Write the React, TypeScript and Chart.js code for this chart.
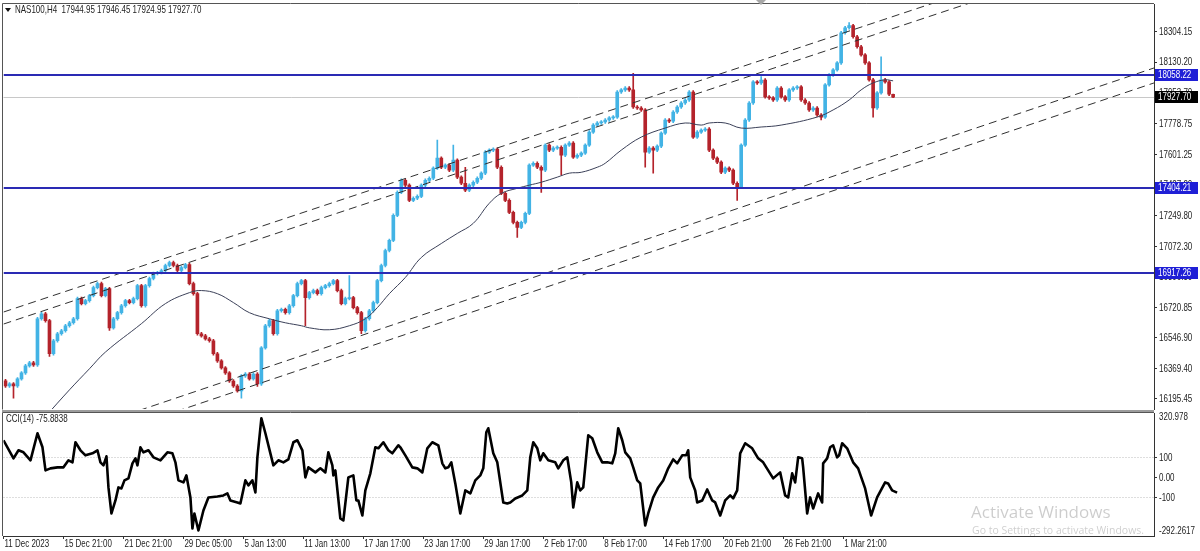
import React, { useEffect, useRef } from "react";
import { Chart, registerables } from "chart.js";

Chart.register(...registerables);

const FONT = "'Liberation Sans', Arial, sans-serif";
const SIZE = 10.5;
const SQUEEZE = 0.76;
const TEXT = "#222";
const BULL = "#42b3e5";
const BEAR = "#b4232b";
const LEVEL = "#2a2ab4";
const LEVEL_TAG = "#1f1fd6";
const MA_COLOR = "#3b4058";

// ---------- data ----------
const symbol = "NAS100,H4";
const lastOHLC = [17944.95, 17946.45, 17924.95, 17927.7];
const firstOpen = 16300;

const closes = [
  16270, 16282, 16270, 16311, 16345, 16386, 16403, 16391, 16656, 16685,
  16645, 16455, 16530, 16570, 16587, 16616, 16633, 16656, 16772, 16743,
  16760, 16789, 16835, 16858, 16789, 16829, 16604, 16656, 16691, 16731,
  16760, 16749, 16772, 16846, 16731, 16846, 16887, 16916, 16921, 16933,
  16962, 16979, 16962, 16933, 16950, 16967, 16858, 16800, 16570, 16558,
  16541, 16530, 16455, 16414, 16374, 16345, 16299, 16270, 16242, 16328,
  16339, 16311, 16339, 16282, 16489, 16616, 16645, 16570, 16702, 16710,
  16691, 16731, 16789, 16858, 16875, 16777, 16806, 16818, 16800, 16835,
  16846, 16858, 16875, 16818, 16743, 16772, 16777, 16720, 16691, 16587,
  16656, 16702, 16749, 16875, 16962, 17048, 17106, 17250, 17382, 17451,
  17423, 17336, 17348, 17359, 17423, 17451, 17463, 17521, 17578, 17526,
  17538, 17509, 17567, 17469, 17434, 17394, 17423, 17440, 17463, 17492,
  17613, 17624, 17630, 17526, 17376, 17336, 17267, 17209, 17181, 17209,
  17261, 17538, 17549, 17526, 17509, 17653, 17624, 17636, 17641, 17595,
  17653, 17665, 17584, 17595, 17607, 17653, 17728, 17768, 17780, 17786,
  17797, 17809, 17814, 17958, 17970, 17981, 17970, 17872, 17866, 17855,
  17613, 17636, 17624, 17647, 17722, 17797, 17790, 17843, 17872, 17895,
  17912, 17958, 17699, 17728, 17739, 17745, 17624, 17578, 17555, 17497,
  17521, 17509, 17434, 17411, 17653, 17797, 17895, 18016, 18010, 18027,
  17930, 17924, 17912, 17981, 17930, 17912, 17970, 17981, 17987, 17912,
  17895, 17855, 17866, 17826, 17814, 17999, 18056, 18085, 18125, 18298,
  18327, 18339, 18275, 18218, 18171, 18125, 18028, 17866, 17953, 18028,
  18016, 17944.95, 17927.7,
];

const upWick = [
  8, 8, 8, 8, 8, 8, 8, 8, 8, 8, 8, 8, 8, 8, 8, 8, 8, 8, 8, 8,
  8, 8, 8, 8, 8, 8, 8, 8, 8, 8, 8, 8, 8, 8, 8, 8, 8, 8, 8, 8,
  8, 8, 8, 8, 8, 8, 8, 8, 8, 8, 8, 8, 8, 8, 8, 8, 8, 8, 8, 8,
  8, 8, 8, 8, 8, 8, 8, 8, 8, 8, 8, 8, 8, 8, 8, 8, 8, 8, 8, 8,
  8, 8, 8, 8, 8, 8, 127, 8, 8, 8, 8, 8, 8, 8, 8, 8, 8, 8, 8, 8,
  8, 8, 8, 8, 8, 8, 8, 8, 104, 8, 8, 8, 86, 8, 8, 92, 8, 8, 8, 8,
  8, 8, 8, 8, 8, 8, 8, 8, 8, 8, 8, 8, 8, 8, 8, 8, 8, 8, 8, 8,
  8, 8, 8, 8, 8, 8, 8, 8, 8, 8, 8, 8, 8, 8, 8, 8, 8, 95, 8, 8,
  8, 8, 8, 8, 8, 8, 8, 8, 8, 8, 8, 8, 8, 8, 8, 8, 8, 8, 8, 8,
  8, 8, 8, 8, 8, 8, 8, 8, 8, 20, 8, 8, 8, 8, 8, 8, 8, 8, 8, 8,
  8, 8, 8, 8, 8, 8, 8, 8, 8, 8, 8, 17, 8, 8, 8, 8, 8, 8, 8, 132,
  8, 8, 1.5,
];

const dnWick = [
  8, 8, 70, 8, 8, 8, 8, 8, 8, 8, 8, 15, 8, 8, 8, 8, 8, 8, 8, 8,
  8, 8, 8, 8, 8, 8, 15, 8, 8, 8, 8, 8, 8, 8, 8, 8, 8, 8, 8, 8,
  8, 8, 8, 8, 8, 8, 8, 8, 8, 8, 8, 8, 8, 8, 8, 8, 8, 8, 8, 42,
  8, 8, 8, 15, 8, 8, 8, 8, 8, 8, 8, 8, 8, 8, 8, 160, 8, 8, 8, 8,
  8, 8, 8, 8, 8, 8, 8, 8, 8, 17, 8, 8, 8, 8, 8, 8, 8, 8, 8, 8,
  8, 8, 8, 8, 8, 8, 8, 8, 8, 8, 8, 8, 8, 8, 8, 8, 8, 8, 8, 8,
  8, 8, 8, 8, 8, 8, 8, 8, 58, 8, 8, 8, 8, 8, 127, 8, 8, 8, 8, 115,
  8, 8, 8, 8, 8, 8, 8, 8, 8, 8, 8, 8, 8, 8, 8, 8, 8, 8, 8, 8,
  87, 8, 132, 8, 8, 8, 8, 8, 8, 8, 8, 8, 8, 8, 8, 8, 8, 8, 8, 8,
  8, 8, 8, 75, 8, 8, 8, 8, 8, 8, 8, 8, 8, 8, 8, 8, 8, 8, 8, 8,
  8, 8, 8, 8, 17, 8, 8, 8, 8, 8, 8, 8, 8, 8, 8, 8, 8, 52, 8, 8,
  8, 8, 2.75,
];

const maPos = [
  10, 16, 21, 25, 34, 40, 46, 49, 53, 57, 61, 66, 70, 74, 76, 81, 86, 90, 93, 96,
  100, 104, 109, 113, 117, 121, 124, 128, 131, 134, 138, 141, 144, 148, 150, 154,
  159, 165, 170, 174, 176, 180, 184, 189, 194, 203, 207, 211, 214, 217, 220, 222,
];
const maVal = [
  16095, 16248, 16369, 16465, 16628, 16743, 16806, 16818, 16800, 16749, 16691, 16656,
  16633, 16616, 16604, 16593, 16616, 16656, 16720, 16800, 16893, 17008, 17088, 17146,
  17204, 17319, 17376, 17405, 17423, 17440, 17469, 17492, 17497, 17526, 17549, 17624,
  17699, 17751, 17780, 17768, 17780, 17780, 17751, 17757, 17768, 17814, 17855, 17912,
  17970, 18010, 18028, 18022,
];

const cciPos = [
  -0.5, 2, 3.25, 4.5, 6.25, 8, 9.25, 10, 11.25, 13,
  14.5, 15.75, 16.75, 17.5, 18.75, 20, 21.75, 23, 23.75, 24.5,
  25.25, 25.75, 26.5, 27.5, 28.25, 29, 29.75, 30.75, 31.75, 32.5,
  33, 33.75, 34.5, 35.75, 37, 38.75, 40.5, 41.75, 42.5, 43.25,
  44.5, 45.25, 46.25, 46.75, 47.25, 48.25, 49.5, 50.75, 53, 54.5,
  55.5, 56.25, 58, 58.75, 60, 60.75, 61.75, 62.5, 63, 64,
  65, 66.25, 67, 68.25, 69.5, 70.75, 72, 73, 74.25, 75,
  75.75, 77.5, 78.75, 80, 80.75, 81.75, 82, 82.5, 83.75, 84.5,
  85.75, 87, 87.75, 88.25, 89.25, 90, 91.25, 92.5, 93.25, 94.5,
  95.75, 96.75, 98.25,
  98.75, 100, 101.75, 103, 104.25, 105.5, 106.75, 108.25, 109.25, 110,
  110.75, 111.5, 112.5, 113.75, 115, 116.25, 117.5, 118.75, 119.5, 120.25,
  120.75, 122, 123, 124.5, 125.5, 126.25, 127.5, 129.25, 130.5, 131.25,
  132, 133, 133.75, 134.5, 135.75, 137.5, 138.25, 139.5, 140.5, 141.5,
  142, 143, 143.75, 144.5, 145.75, 146.75, 148, 149.25, 150.5, 151.75,
  152.5, 153.25, 154.25, 155, 156.25, 157, 158, 158.75, 160, 160.75,
  162, 163.25, 164.5, 165.75, 167, 168, 169.25, 170.25, 170.75, 171.25,
  172.5, 173, 174.25, 175.5, 176.75, 177.5, 178.75, 180, 181.25, 182,
  183, 183.75, 185, 186.75, 188.25, 189.5, 192, 193.75, 195, 195.75,
  196.75, 197.5, 198.25,
  199.25, 199.5, 200.5, 201.25, 202, 203.25, 204.25, 204.5, 205.5, 206.25,
  207, 208, 208.5, 209.25, 210.5, 212, 213.25, 215, 216.5, 218,
  220, 220.75, 221.75, 223,
];
const cciVal = [
  185, 95, 135, 125, 85, 220, 150, 35, 45, 50,
  50, 85, 75, 175, 135, 110, 120, 135, 75, 60,
  105, -50, -180, -115, -50, -55, -15, -5, 70, 95,
  60, 150, 125, 135, 100, 85, 125, 120, 75, -15,
  -25, 10, -100, -255, -180, -265, -165, -100, -95, -90,
  -80, -115, -125, -130, -15, -40, -15, -75, 100, 295,
  220, 120, 60, 85, 75, 90, 175, 185, 135, 0,
  50, 25, 45, 25, 125, 60, 10, 35, -205, -215,
  0, 10, -115, -115, -190, -65, 20, 150, 145, 175,
  135, 120, 160,
  150, 110, 50, 45, 25, 145, 175, 160, 70, 45,
  50, 75, -30, -180, -65, -80, -15, 10, 45, 225,
  245, 120, 75, -125, -130, -125, -105, -90, -65, 100,
  175, 145, 85, 120, 85, 75, 45, 85, 100, -25,
  -150, -25, -65, -50, 210, 195, 125, 75, 75, 70,
  120, 245, 185, 125, 95, 50, -15, -30, -240, -180,
  -100, -50, -15, 45, 90, 70, 110, 110, 135, 0,
  -65, -125, -115, -60, -115, -125, -190, -115, -90, -105,
  -65, 120, 170, 145, 95, 75, -5, 25, -90, -100,
  20, -25, 100,
  95, 50, -180, -100, -155, -80, -125, 70, 95, 150,
  160, 100, 110, 170, 145, 75, 45, -55, -190, -100,
  -25, -30, -65, -75.8838,
];
const cciLast = -75.8838;
const cciLevels = [100, -100];
const cciTicks = [100, 0, -100];

const priceTicks = [
  18304.15, 18130.2, 17953.7, 17778.75, 17601.25, 17427.2, 17249.8,
  17072.3, 16896.8, 16720.85, 16546.9, 16369.4, 16195.45,
];
const levels = [18058.22, 17404.21, 16917.26];
const lastPrice = 17927.7;

// trend lines: [bar1, price1, bar2, price2]
const trendLines = [
  [-1.25, 16689, 223.75, 18405],
  [-1.25, 16620, 223.75, 18336],
  [33.75, 16132, 287.25, 18096],
  [43.75, 16132, 287.25, 18010],
];

const timeLabels = [
  "11 Dec 2023", "15 Dec 21:00", "21 Dec 21:00", "29 Dec 05:00", "5 Jan 13:00",
  "11 Jan 13:00", "17 Jan 17:00", "23 Jan 17:00", "29 Jan 17:00", "2 Feb 17:00",
  "8 Feb 17:00", "14 Feb 17:00", "20 Feb 21:00", "26 Feb 21:00", "1 Mar 21:00",
];
const timeTickBars = [
  -0.5, 14.5, 29.5, 44.5, 59.5, 74.5, 89.5, 104.5, 119.5, 134.5, 149.5, 164.5,
  179.5, 194.5, 209.5,
];

const X_MIN = -0.5;
const X_MAX = 287.25;
const Y_MIN = 16138;
const Y_MAX = 18463.2;
const CCI_MIN = -292.2617;
const CCI_MAX = 320.978;

// ---------- helpers ----------
function drawText(ctx: any, text: string, x: number, y: number, color = TEXT) {
  ctx.save();
  ctx.font = `${SIZE}px ${FONT}`;
  ctx.textBaseline = "middle";
  ctx.textAlign = "left";
  ctx.fillStyle = color;
  ctx.translate(x, y);
  ctx.scale(SQUEEZE, 1);
  ctx.fillText(text, 0, 0);
  ctx.restore();
}

// ---------- plugins ----------
const mainOverlay = {
  id: "mainOverlay",
  beforeDatasetsDraw(chart: any) {
    const { ctx, chartArea: a, scales } = chart;
    const py = Math.round(scales.y.getPixelForValue(lastPrice)) + 0.5;
    ctx.save();
    ctx.strokeStyle = "#c8c8c8";
    ctx.lineWidth = 1;
    ctx.beginPath();
    ctx.moveTo(a.left, py);
    ctx.lineTo(a.right, py);
    ctx.stroke();
    ctx.restore();
  },
  afterDatasetsDraw(chart: any) {
    const { ctx, chartArea: a, scales } = chart;
    const x = scales.x;
    const y = scales.y;
    ctx.save();
    ctx.beginPath();
    ctx.rect(a.left, a.top, a.right - a.left, a.bottom - a.top);
    ctx.clip();
    ctx.strokeStyle = "#303030";
    ctx.lineWidth = 1;
    ctx.setLineDash([8, 5]);
    for (const [b1, p1, b2, p2] of trendLines) {
      const x1 = x.getPixelForValue(b1);
      const y1 = y.getPixelForValue(p1);
      const x2 = x.getPixelForValue(b2);
      const y2 = y.getPixelForValue(p2);
      const m = (y2 - y1) / (x2 - x1);
      ctx.beginPath();
      ctx.moveTo(a.left, y1 + m * (a.left - x1));
      ctx.lineTo(a.right, y1 + m * (a.right - x1));
      ctx.stroke();
    }
    ctx.setLineDash([]);
    ctx.strokeStyle = LEVEL;
    ctx.lineWidth = 2;
    for (const lv of levels) {
      const ly = Math.round(y.getPixelForValue(lv));
      ctx.beginPath();
      ctx.moveTo(a.left, ly);
      ctx.lineTo(a.right, ly);
      ctx.stroke();
    }
    ctx.restore();
  },
  afterDraw(chart: any) {
    const { ctx, chartArea: a, scales } = chart;
    const y = scales.y;
    ctx.save();
    // frame
    ctx.strokeStyle = "#555";
    ctx.lineWidth = 1;
    ctx.beginPath();
    ctx.moveTo(a.left - 1, a.bottom + 0.5);
    ctx.lineTo(a.left - 1, a.top - 0.5);
    ctx.lineTo(a.right, a.top - 0.5);
    ctx.stroke();
    // axis labels
    for (const v of priceTicks) {
      drawText(ctx, v.toFixed(2), a.right + 5, y.getPixelForValue(v) + 0.5);
    }
    // price tags
    for (const lv of levels) {
      const ly = Math.round(y.getPixelForValue(lv));
      ctx.fillStyle = LEVEL_TAG;
      ctx.fillRect(a.right + 1, ly - 6, 43, 12);
      drawText(ctx, lv.toFixed(2), a.right + 4, ly + 0.5, "#fff");
    }
    const py = Math.round(y.getPixelForValue(lastPrice));
    ctx.fillStyle = "#000";
    ctx.fillRect(a.right + 1, py - 6, 43, 12);
    drawText(ctx, lastPrice.toFixed(2), a.right + 4, py + 0.5, "#fff");
    // header
    ctx.fillStyle = "#111";
    ctx.beginPath();
    ctx.moveTo(5, 8);
    ctx.lineTo(11, 8);
    ctx.lineTo(8, 12);
    ctx.closePath();
    ctx.fill();
    drawText(ctx, `${symbol}  ${lastOHLC.map((v) => v.toFixed(2)).join(" ")}`, 15, 10.5);
    // shift marker
    ctx.fillStyle = "#a8a8a8";
    ctx.beginPath();
    ctx.moveTo(756, 0);
    ctx.lineTo(766, 0);
    ctx.lineTo(761, 5);
    ctx.closePath();
    ctx.fill();
    ctx.restore();
  },
};

const cciOverlay = {
  id: "cciOverlay",
  beforeDatasetsDraw(chart: any) {
    const { ctx, chartArea: a, scales } = chart;
    ctx.save();
    ctx.strokeStyle = "#bdbdbd";
    ctx.lineWidth = 1;
    ctx.setLineDash([1, 2]);
    for (const v of cciLevels) {
      const py = Math.round(scales.y.getPixelForValue(v)) + 0.5;
      ctx.beginPath();
      ctx.moveTo(a.left, py);
      ctx.lineTo(a.right, py);
      ctx.stroke();
    }
    ctx.restore();
  },
  afterDraw(chart: any) {
    const { ctx, chartArea: a, scales } = chart;
    const x = scales.x;
    const y = scales.y;
    ctx.save();
    ctx.fillStyle = "#9c9c9c";
    ctx.fillRect(2, 0, a.right - 2, 2);
    ctx.strokeStyle = "#555";
    ctx.lineWidth = 1;
    ctx.beginPath();
    ctx.moveTo(a.left - 1, a.bottom);
    ctx.lineTo(a.left - 1, a.top - 0.5);
    ctx.lineTo(a.right, a.top - 0.5);
    ctx.stroke();
    drawText(ctx, `CCI(14) ${cciLast}`, 6, a.top + 6.5);
    for (const v of cciTicks) {
      drawText(ctx, v === 0 ? "0.00" : String(v), a.right + 5, y.getPixelForValue(v) + 0.5);
    }
    drawText(ctx, String(CCI_MAX), a.right + 5, y.getPixelForValue(CCI_MAX) + 4.5);
    drawText(ctx, String(CCI_MIN), a.right + 5, y.getPixelForValue(CCI_MIN) - 4.5);
    timeTickBars.forEach((b, k) => {
      drawText(ctx, timeLabels[k], x.getPixelForValue(b) + 1, a.bottom + 8);
    });
    // watermark
    ctx.fillStyle = "rgba(0,0,0,0.2)";
    ctx.textBaseline = "alphabetic";
    ctx.textAlign = "left";
    ctx.font = "17px 'Open Sans', 'Noto Sans', sans-serif";
    ctx.fillText("Activate Windows", 971, 108);
    ctx.font = "10.5px 'Open Sans', 'Noto Sans', sans-serif";
    ctx.fillText("Go to Settings to activate Windows.", 972, 124);
    ctx.restore();
  },
};

export default function App() {
  const mainRef = useRef<HTMLCanvasElement>(null);
  const cciRef = useRef<HTMLCanvasElement>(null);

  useEffect(() => {
    const opens = closes.map((c, i) => (i === 0 ? firstOpen : closes[i - 1]));
    const colors = closes.map((c, i) => (c >= opens[i] ? BULL : BEAR));
    const bodies = closes.map((c, i) => ({ x: i, y: [opens[i], c] }));
    const wicks = closes.map((c, i) => ({
      x: i,
      y: [Math.min(opens[i], c) - dnWick[i], Math.max(opens[i], c) + upWick[i]],
    }));

    const main = new Chart(mainRef.current as HTMLCanvasElement, {
      type: "bar",
      data: {
        datasets: [
          {
            type: "line",
            data: maPos.map((x, k) => ({ x, y: maVal[k] })),
            borderColor: MA_COLOR,
            borderWidth: 1,
            pointRadius: 0,
            tension: 0.4,
            order: 0,
          } as any,
          {
            type: "bar",
            data: bodies,
            backgroundColor: colors,
            barThickness: 3,
            minBarLength: 1,
            grouped: false,
            order: 1,
          } as any,
          {
            type: "bar",
            data: wicks,
            backgroundColor: colors,
            barThickness: 1,
            grouped: false,
            order: 2,
          } as any,
        ],
      },
      options: {
        responsive: false,
        animation: false,
        devicePixelRatio: 1,
        events: [],
        layout: { padding: { left: 3.5, top: 4, right: 0, bottom: 1 } },
        plugins: { legend: { display: false }, tooltip: { enabled: false } },
        scales: {
          x: { type: "linear", min: X_MIN, max: X_MAX, offset: false, display: false },
          y: {
            position: "right",
            min: Y_MIN,
            max: Y_MAX,
            afterBuildTicks: (s: any) => {
              s.ticks = priceTicks.map((v) => ({ value: v }));
            },
            afterFit: (s: any) => {
              s.width = 46;
            },
            ticks: { display: false, autoSkip: false },
            grid: { drawOnChartArea: false, drawTicks: true, tickLength: 3, color: "#333" },
            border: { display: true, color: "#333" },
          },
        },
      } as any,
      plugins: [mainOverlay],
    });

    const cci = new Chart(cciRef.current as HTMLCanvasElement, {
      type: "line",
      data: {
        datasets: [
          {
            data: cciPos.map((x, k) => ({ x, y: cciVal[k] })),
            borderColor: "#000",
            borderWidth: 2.6,
            pointRadius: 0,
            tension: 0,
            borderJoinStyle: "round",
          } as any,
        ],
      },
      options: {
        responsive: false,
        animation: false,
        devicePixelRatio: 1,
        events: [],
        layout: { padding: { left: 3.5, top: 3, right: 0, bottom: 0 } },
        plugins: { legend: { display: false }, tooltip: { enabled: false } },
        scales: {
          x: {
            type: "linear",
            min: X_MIN,
            max: X_MAX,
            offset: false,
            afterBuildTicks: (s: any) => {
              s.ticks = timeTickBars.map((v) => ({ value: v }));
            },
            afterFit: (s: any) => {
              s.height = 15;
            },
            ticks: { display: false, autoSkip: false },
            grid: { drawOnChartArea: false, drawTicks: true, tickLength: 3, color: "#333" },
            border: { display: true, color: "#333" },
          },
          y: {
            position: "right",
            min: CCI_MIN,
            max: CCI_MAX,
            afterBuildTicks: (s: any) => {
              s.ticks = cciTicks.map((v) => ({ value: v }));
            },
            afterFit: (s: any) => {
              s.width = 46;
            },
            ticks: { display: false, autoSkip: false },
            grid: { drawOnChartArea: false, drawTicks: true, tickLength: 3, color: "#333" },
            border: { display: true, color: "#333" },
          },
        },
      } as any,
      plugins: [cciOverlay],
    });

    return () => {
      main.destroy();
      cci.destroy();
    };
  }, []);

  return (
    <div
      style={{
        position: "fixed",
        left: 0,
        top: 0,
        width: 1200,
        height: 551,
        background: "#fff",
        overflow: "hidden",
      }}
    >
      <canvas
        ref={mainRef}
        width={1200}
        height={410}
        style={{ position: "absolute", left: 0, top: 0, width: 1200, height: 410 }}
      />
      <canvas
        ref={cciRef}
        width={1200}
        height={141}
        style={{ position: "absolute", left: 0, top: 410, width: 1200, height: 141 }}
      />
    </div>
  );
}
